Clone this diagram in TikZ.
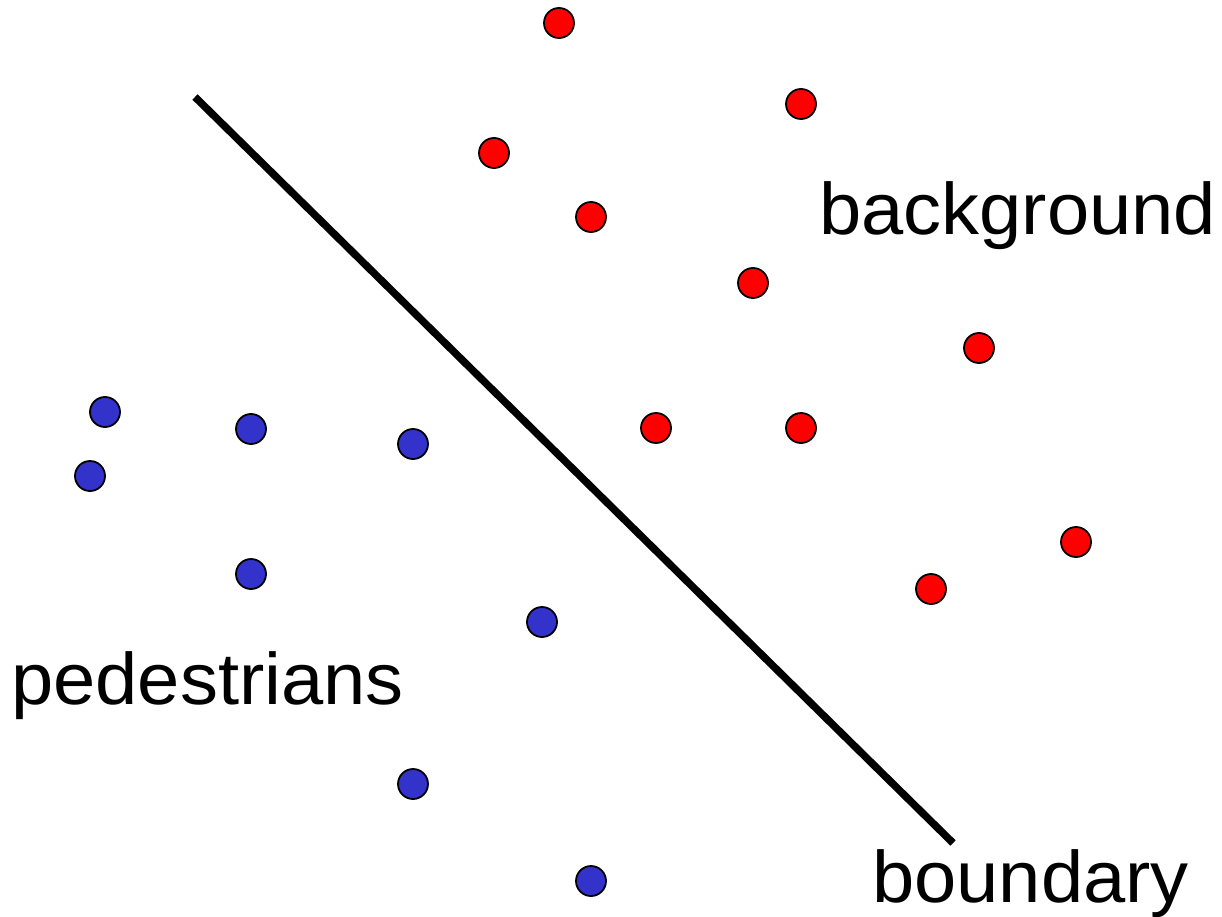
\documentclass[tikz,border=0pt]{standalone}
\usepackage{fontspec}
\setmainfont[FakeStretch=1.04]{Liberation Sans}
\definecolor{dotred}{RGB}{255,0,0}
\definecolor{dotblue}{RGB}{51,51,204}
\begin{document}
\begin{tikzpicture}[x=1pt,y=-1pt,
  dot/.style={circle,draw=black,line width=1.8pt,minimum size=30pt,inner sep=0pt},
  bg/.style={dot,fill=dotred},
  ped/.style={dot,fill=dotblue},
  lbl/.style={anchor=base west,inner sep=0pt,font=\fontsize{73}{88}\selectfont}]
\useasboundingbox (0,0) rectangle (1222,917);
% boundary line
\coordinate (b1) at (195,97);
\coordinate (b2) at (953,843);
\draw[line width=7.5pt] (b1) -- (b2);
% background points
\node[bg] (r1) at (559,23) {};
\node[bg] (r2) at (801,104) {};
\node[bg] (r3) at (494,153) {};
\node[bg] (r4) at (591,217) {};
\node[bg] (r5) at (753,283) {};
\node[bg] (r6) at (979,348) {};
\node[bg] (r7) at (656,428) {};
\node[bg] (r8) at (801,428) {};
\node[bg] (r9) at (1076,542) {};
\node[bg] (r10) at (931,589) {};
% pedestrian points
\node[ped] (p1) at (105,412) {};
\node[ped] (p2) at (251,429) {};
\node[ped] (p3) at (413,444) {};
\node[ped] (p4) at (90,476) {};
\node[ped] (p5) at (251,574) {};
\node[ped] (p6) at (542,622) {};
\node[ped] (p7) at (413,784) {};
\node[ped] (p8) at (591,881) {};
% labels
\node[lbl] (tbg) at (819,234) {background};
\node[lbl] (tped) at (11,704) {pedestrians};
\node[lbl] (tbd) at (872,902) {boundary};
\end{tikzpicture}
\end{document}
